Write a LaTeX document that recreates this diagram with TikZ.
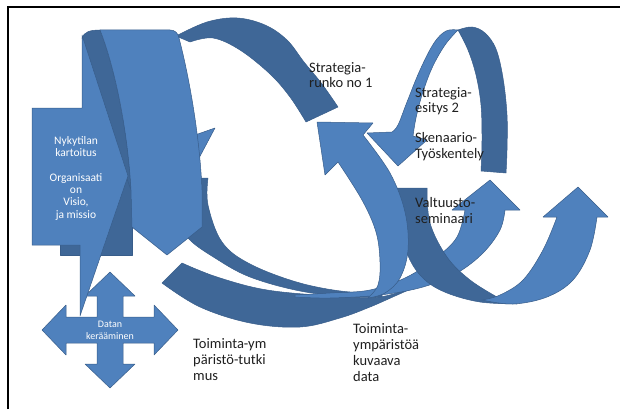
\documentclass[tikz,border=0pt]{standalone}
\usepackage{fontspec}
\setmainfont{Carlito}
\definecolor{lb}{HTML}{4F81BD}
\definecolor{db}{HTML}{3F6797}
\definecolor{edge}{HTML}{385D8A}
\begin{document}
\begin{tikzpicture}[x=1pt,y=-1pt,
  front/.style={fill=lb,draw=edge,line width=0.5pt,line join=round},
  back/.style={fill=db,draw=edge,line width=0.5pt,line join=round},
  lbl/.style={font=\fontsize{14.5}{15.8}\selectfont,align=left,anchor=base west,inner sep=0pt,text=black!88},
  smooth6/.style={smooth,tension=0.6}]
\useasboundingbox (0,0) rectangle (620,409);

% dark block behind the callout
\path[back] (60,120) rectangle (132,255);

% U ribbon: back side under the left band
\path[back] (178,178) -- (208,178) -- plot[smooth6] coordinates {(208,178)(208,205)(222,242)(250,264)(300,283)(350,292)(382,290)}
  -- plot[smooth6] coordinates {(382,297)(350,297)(300,291)(250,277)(215,258)(188,238)(178,215)} -- cycle;

% lower band: back side
\path[back] (162,283) -- plot[smooth6] coordinates {(182,263)(217,277)(267,290)(333,296)(380,297)(422,284)}
  -- plot[smooth6] coordinates {(422,284)(395,296)(370,307)(340,318)(300,327)(250,323)(200,307)(162,283)} -- cycle;

% lower band: front side with first up arrow
\path[front] (490,180) -- (520,210) -- (505,210)
  -- plot[smooth6] coordinates {(505,210)(500,230)(483,253)(457,273)(423,287)(380,295)(330,298)(295,297)}
  -- plot[smooth6] coordinates {(295,295)(330,293)(370,290)(407,277)(437,257)(457,237)(465,210)}
  -- (452,210) -- cycle;

% right band: back side
\path[back] (397,188) -- (427,188) -- plot[smooth6] coordinates {(427,188)(430,223)(447,257)(470,280)(497,297)}
  -- (517,304) -- plot[smooth6] coordinates {(517,304)(480,302)(447,293)(425,280)(410,260)(400,230)(397,188)} -- cycle;

% right band: front side with second up arrow
\path[front] (578,187) -- (608,217) -- (597,217)
  -- plot[smooth6] coordinates {(597,217)(590,250)(573,280)(547,297)(513,304)(482,300)}
  -- plot[smooth6] coordinates {(482,300)(500,295)(523,280)(543,250)(557,217)}
  -- (543,217) -- cycle;

% U ribbon: front side rising to the arrow head
\path[front] (317,122) -- (373,123) -- (363,135)
  -- plot[smooth6] coordinates {(363,135)(390,173)(405,212)(408,250)(400,278)(385,293)(368,298)}
  -- plot[smooth6] coordinates {(368,298)(378,285)(380,262)(376,232)(362,200)(338,162)}
  -- (325,175) -- cycle;

% loop at the top right: back side
\path[back] (458,30) -- plot[smooth6] coordinates {(458,30)(472,27)(485,33)(496,49)(503,78)(507,115)(507,150)(506,173)}
  -- (481,171) -- plot[smooth6] coordinates {(481,171)(482,140)(481,105)(476,75)(468,50)(458,30)} -- cycle;

% loop at the top right: front side with arrow head
\path[front] (367,133) -- (398,166) -- (427,140) -- (413,136)
  -- plot[smooth6] coordinates {(413,136)(416,118)(422,95)(432,68)(445,45)(458,30)}
  -- plot[smooth6] coordinates {(458,30)(446,31)(434,43)(420,70)(407,102)(398,125)(392,132)} -- cycle;

% arc over the top
\path[back] plot[smooth6] coordinates {(176,36)(207,22)(237,18)(265,25)(287,40)(304,62)(322,84)(338,107)}
  -- (306,122) -- plot[smooth6] coordinates {(306,122)(290,97)(270,74)(240,50)(213,38)(190,42)} -- cycle;

% left band
\path[back] (82,38) .. controls (84,32) and (90,30) .. (100,30) .. controls (112,60) and (127,120) .. (131,190) -- (126,176) -- cycle;
\path[front] (195,135) -- (215,128) -- (198,160) -- cycle;
\path[front] (100,30) -- (170,30) .. controls (175,30) and (178,33) .. (179,38)
  .. controls (190,80) and (200,140) .. (202,190) -- (202,227) -- (167,255) -- (132,227) -- (131,190)
  .. controls (127,120) and (112,60) .. (100,30) -- cycle;

% four-way arrow
\path[front] (110,272) -- (135,296) -- (123,296) -- (123,317) -- (154,317) -- (154,305) -- (178,330)
  -- (154,355) -- (154,343) -- (123,343) -- (123,364) -- (135,364) -- (110,388) -- (85,364)
  -- (97,364) -- (97,343) -- (66,343) -- (66,355) -- (42,330) -- (66,305) -- (66,317) -- (97,317)
  -- (97,296) -- (85,296) -- cycle;

% callout
\path[front] (32,108) -- (82,108) -- (82,35) -- (128,176) -- (80,316) -- (80,245) -- (32,245) -- cycle;

% texts (base anchor sits on the last line)
\node[font=\fontsize{11.5}{12.3}\selectfont,text=white,align=center,anchor=base,inner sep=0pt] (now) at (76,218)
  {Nykytilan\\kartoitus\\\mbox{}\\Organisaati\\on\\Visio,\\ja missio};
\node[font=\fontsize{10}{11.5}\selectfont,text=white,align=center,anchor=base,inner sep=0pt] (data) at (110,339)
  {Datan\\kerääminen};
\node[lbl] (t1) at (309,88) {Strategia-\\runko no 1};
\node[lbl] (t2) at (415,113) {Strategia-\\esitys 2};
\node[lbl] (t3) at (415,158) {Skenaario-\\Työskentely};
\node[lbl] (t4) at (415,223) {Valtuusto-\\seminaari};
\node[lbl] (t5) at (193,380) {Toiminta-ym\\päristö-tutki\\mus};
\node[lbl] (t6) at (353,381) {Toiminta-\\ympäristöä\\kuvaava\\data};

% frame
\draw[line width=1.8pt] (8,409) -- (8,7) -- (620,7);
\end{tikzpicture}
\end{document}
